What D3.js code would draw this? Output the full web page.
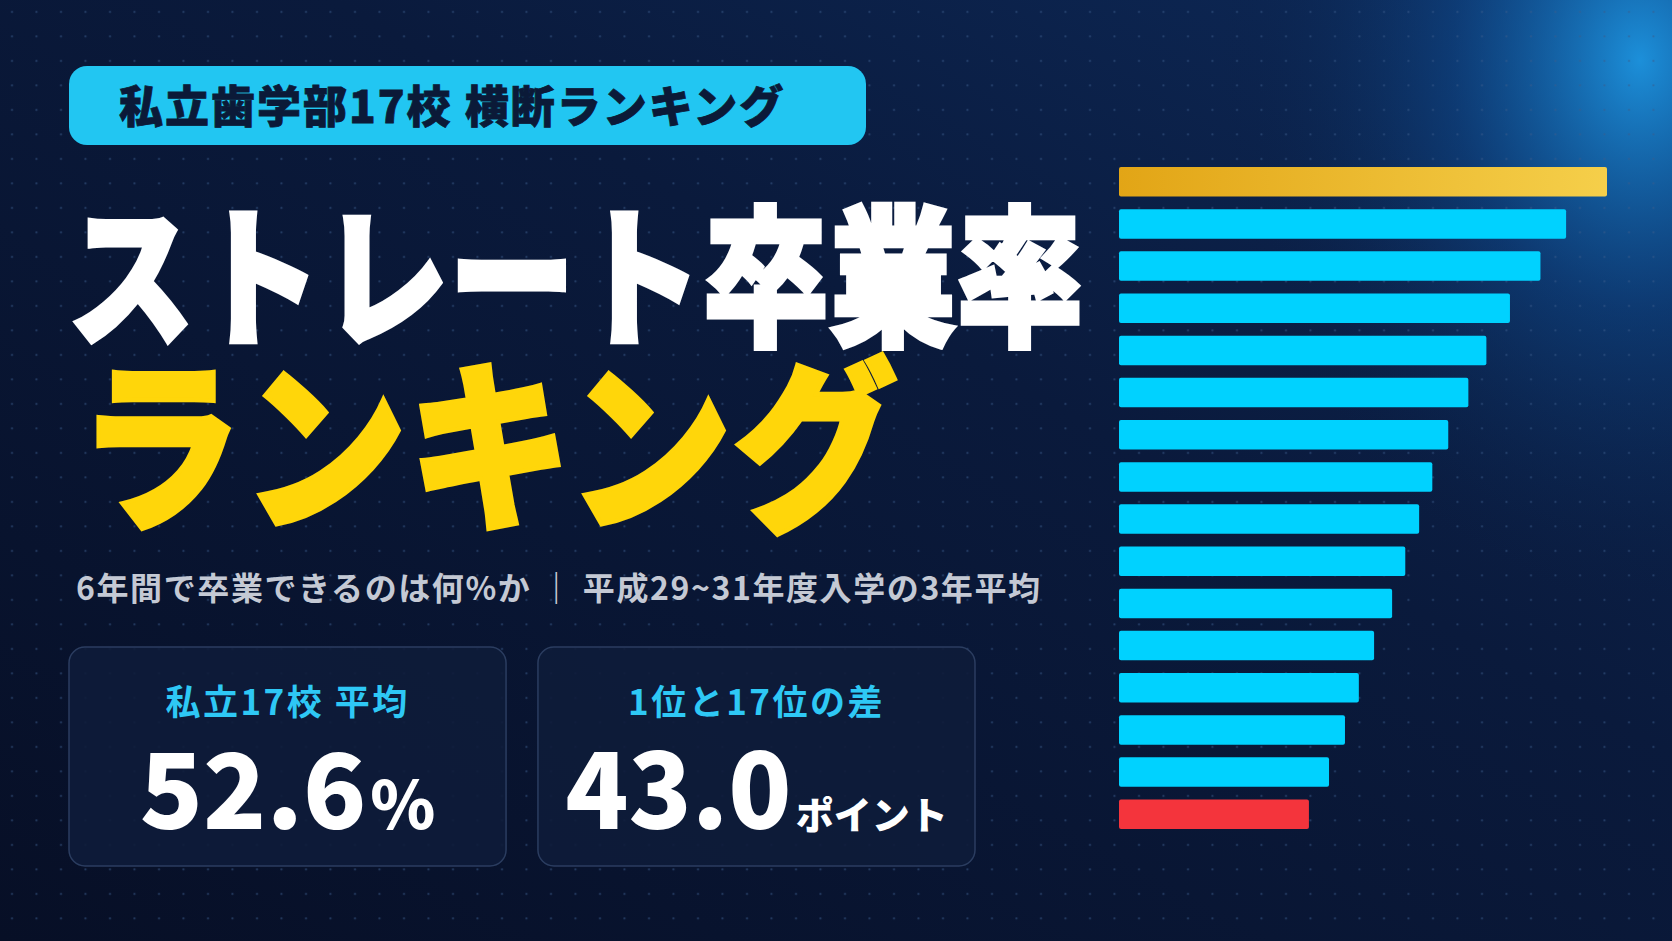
<!DOCTYPE html>
<html><head><meta charset="utf-8">
<script src="https://cdn.jsdelivr.net/npm/d3@7"></script>
<style>html,body{margin:0;padding:0;background:#081330;overflow:hidden}</style>
</head><body>
<script>
// straight graduation rate, 16 bars (top to bottom)
const ranks = d3.range(1, 17);
const rates = [70.4, 64.5, 60.8, 56.4, 53.0, 50.4, 47.5, 45.2, 43.3, 41.3, 39.4, 36.8, 34.6, 32.6, 30.3, 27.4];
const badgeText = '私立歯学部17校 横断ランキング';
const titleLines = ['ストレート卒業率', 'ランキング'];
const subText = '6年間で卒業できるのは何%か ｜ 平成29~31年度入学の3年平均';
const cards = [
  {label: '私立17校 平均', value: '52.6', unit: '%'},
  {label: '1位と17位の差', value: '43.0', unit: 'ポイント'}
];

const W = 1672, H = 941;
const F = '"Noto Sans CJK JP","Noto Sans",sans-serif';
const svg = d3.select('body').append('svg').attr('width', W).attr('height', H);
const defs = svg.append('defs');

// background
const bg = defs.append('linearGradient').attr('id', 'bg').attr('x1', 0).attr('y1', 1).attr('x2', 1).attr('y2', 0);
bg.append('stop').attr('offset', 0).attr('stop-color', '#070f26');
bg.append('stop').attr('offset', 0.6).attr('stop-color', '#0a1a3c');
bg.append('stop').attr('offset', 1).attr('stop-color', '#0d2a5a');
svg.append('rect').attr('width', W).attr('height', H).attr('fill', 'url(#bg)');
const glow = defs.append('radialGradient').attr('id', 'glow').attr('cx', 0.5).attr('cy', 0.5).attr('r', 0.5);
glow.append('stop').attr('offset', 0).attr('stop-color', '#1e9be8').attr('stop-opacity', 0.9);
glow.append('stop').attr('offset', 0.45).attr('stop-color', '#1060b0').attr('stop-opacity', 0.35);
glow.append('stop').attr('offset', 1).attr('stop-color', '#0a1a3c').attr('stop-opacity', 0);
svg.append('ellipse').attr('cx', 1640).attr('cy', 60).attr('rx', 420).attr('ry', 560).attr('fill', 'url(#glow)');

const pat = defs.append('pattern').attr('id', 'dots').attr('width', 24.5).attr('height', 24.5).attr('patternUnits', 'userSpaceOnUse');
pat.append('circle').attr('cx', 12).attr('cy', 12).attr('r', 1.1).attr('fill', '#3a5a8a').attr('opacity', 0.55);
svg.append('rect').attr('width', W).attr('height', H).attr('fill', 'url(#dots)');

// badge
svg.append('rect').attr('x', 69).attr('y', 66).attr('width', 797).attr('height', 79).attr('rx', 18).attr('fill', '#22c6f2');
svg.append('text').attr('x', 119).attr('y', 123).attr('font-family', F).attr('font-weight', 900)
  .attr('font-size', 44).attr('letter-spacing', 2).attr('fill', '#0b1a38')
  .attr('stroke', '#0b1a38').attr('stroke-width', 0.8).text(badgeText);

// title
svg.append('text').attr('transform', 'translate(68,334) scale(1,1.2)').attr('font-family', F).attr('font-weight', 900)
  .attr('font-size', 126).attr('fill', '#ffffff').attr('stroke', '#ffffff').attr('stroke-width', 4)
  .attr('letter-spacing', 1).text(titleLines[0]);
svg.append('text').attr('transform', 'translate(78,516) scale(1,1.12)').attr('font-family', F).attr('font-weight', 900)
  .attr('font-size', 164).attr('letter-spacing', 1).attr('fill', '#ffd60a')
  .attr('stroke', '#ffd60a').attr('stroke-width', 4).text(titleLines[1]);

svg.append('text').attr('x', 76).attr('y', 600).attr('font-family', F).attr('font-weight', 700)
  .attr('font-size', 32).attr('letter-spacing', 1.6).attr('fill', '#c4c9d4').text(subText);

// cards
const cardX = d3.scaleBand().domain(cards.map((d, i) => i)).range([69, 975]).paddingInner(0.068);
const cg = svg.selectAll('.card').data(cards).join('g').attr('transform', (d, i) => `translate(${cardX(i)},647)`);
cg.append('rect').attr('width', cardX.bandwidth()).attr('height', 219).attr('rx', 16)
  .attr('fill', '#0e1c3a').attr('fill-opacity', 0.9).attr('stroke', '#2b3d60').attr('stroke-width', 1.5);
cg.append('text').attr('x', cardX.bandwidth() / 2).attr('y', 68).attr('text-anchor', 'middle')
  .attr('font-family', F).attr('font-weight', 700).attr('font-size', 35).attr('letter-spacing', 2.5)
  .attr('fill', '#2ec8f5').text(d => d.label);
const big = cg.append('text').attr('x', cardX.bandwidth() / 2).attr('y', 182).attr('text-anchor', 'middle')
  .attr('font-family', F).attr('font-weight', 900).attr('fill', '#ffffff');
big.append('tspan').attr('font-size', 104).text(d => d.value);
big.append('tspan').attr('font-size', (d, i) => i ? 38 : 66).attr('dx', 4).text(d => d.unit);

// bars
const x = d3.scaleLinear().domain([0, 70.4]).range([0, 488]);
const y = d3.scaleBand().domain(ranks).range([167, 829]).paddingInner(0.3).paddingOuter(0);
const gold = defs.append('linearGradient').attr('id', 'gold');
gold.append('stop').attr('offset', 0).attr('stop-color', '#e2a516');
gold.append('stop').attr('offset', 1).attr('stop-color', '#f5cf4a');
svg.append('g').selectAll('rect').data(rates).join('rect')
  .attr('x', 1119).attr('y', (d, i) => y(ranks[i]))
  .attr('width', d => x(d)).attr('height', y.bandwidth()).attr('rx', 2)
  .attr('fill', (d, i) => i === 0 ? 'url(#gold)' : i === rates.length - 1 ? '#f4343c' : '#00d2ff');
</script>
</body></html>
